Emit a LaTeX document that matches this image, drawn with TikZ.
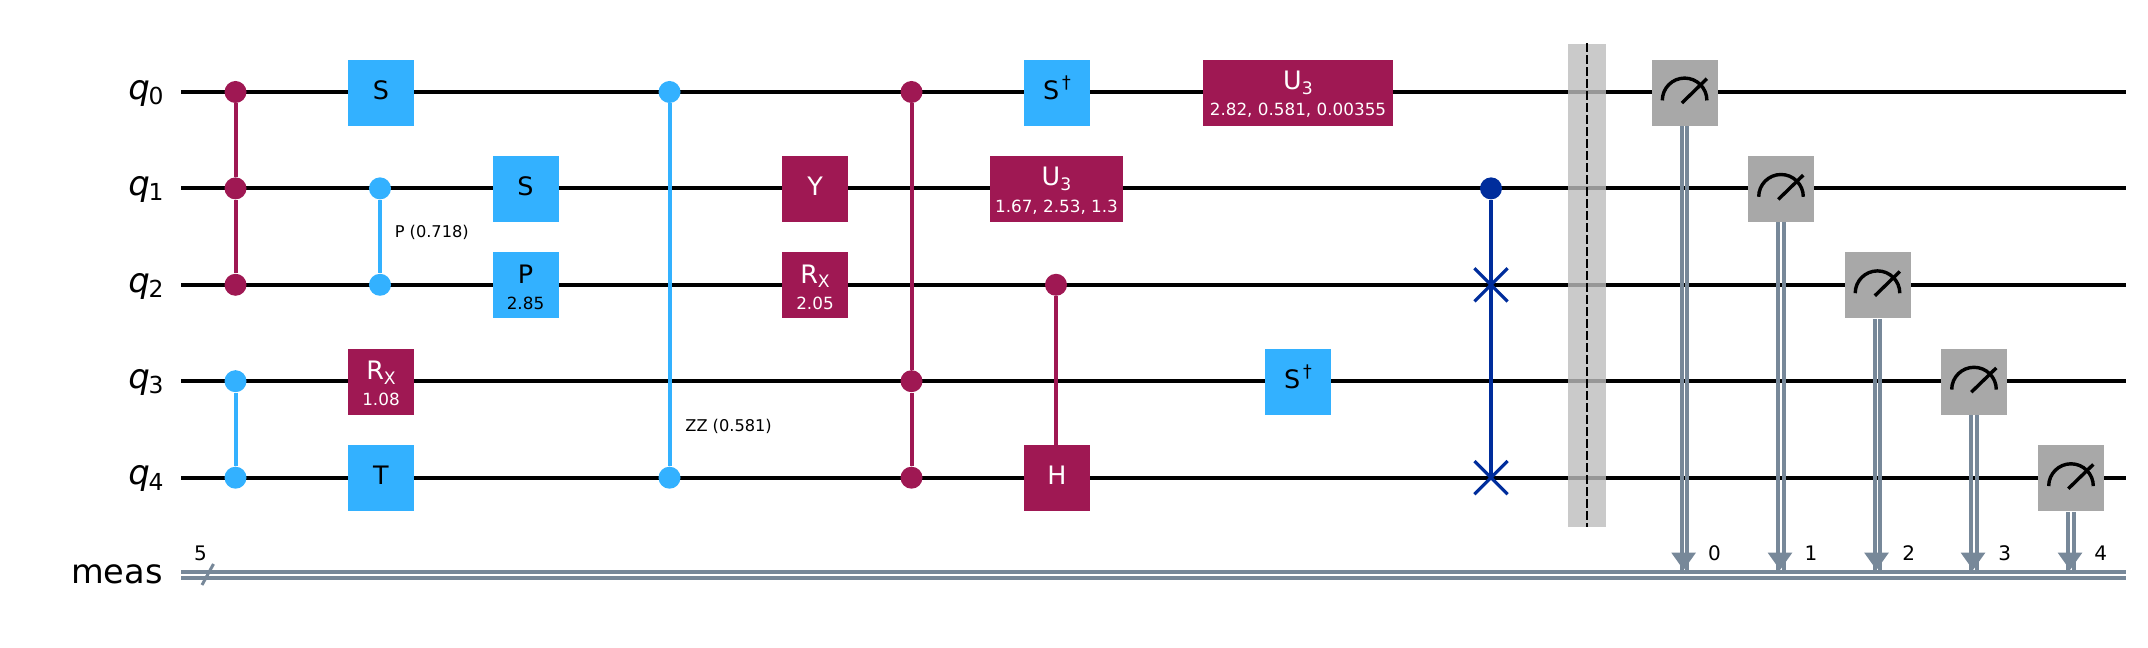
\documentclass[tikz,border=0pt]{standalone}
\usepackage{fontspec}
\setmainfont{DejaVu Sans}
\usetikzlibrary{arrows.meta, shapes.misc}

\definecolor{gatepink}{HTML}{9F1853}
\definecolor{gateblue}{HTML}{33B1FF}
\definecolor{swapblue}{HTML}{002D9C}
\definecolor{metergray}{HTML}{A8A8A8}
\definecolor{barriergray}{HTML}{BDBDBD}
\definecolor{clgray}{HTML}{778899}

\newcommand{\gsub}[1]{\raisebox{-2.4pt}[0pt][0pt]{\fontsize{8.6}{10}\selectfont #1}}
\newcommand{\gsup}{\raisebox{5.3pt}[0pt][0pt]{\fontsize{8.7}{10}\selectfont\,†}}
\newcommand{\gtwo}[2]{\rule{0pt}{10.9pt}#1\\[-0.5pt]{\fontsize{8.4}{13.6}\selectfont #2}}

\tikzset{
  qwire/.style={line width=2pt, black},
  clwire/.style={line width=2pt, clgray},
  gatebox/.style={rectangle, inner sep=0, yshift=-0.35pt, minimum width=33pt, minimum height=33pt, font=\fontsize{12.7}{13.6}\selectfont},
  one/.style={text height=9.2pt, text depth=2.7pt},
  two/.style={align=center},
  bgate/.style={gatebox, fill=gateblue, text=black},
  pgate/.style={gatebox, fill=gatepink, text=white},
  dot/.style={circle, inner sep=0, minimum size=11pt, fill=#1},
  link/.style={line width=2pt, #1},
  swapx/.style={cross out, draw=swapblue, line width=1.6pt, inner sep=0, minimum size=15pt},
  meter/.style={gatebox, fill=metergray, path picture={
    \draw[line width=1.7pt] ([shift={(-22.3,-7.7)}]path picture bounding box.center) arc (180:0:22.3);
    \draw[line width=1.7pt] ([shift={(-2.7,-10.3)}]path picture bounding box.center) -- ([shift={(22.3,14)}]path picture bounding box.center);
  }},
  wirelabel/.style={anchor=base east, inner sep=0, font=\fontsize{17}{18}\selectfont},
  small/.style={anchor=base west, inner sep=0, font=\fontsize{8.1}{10}\selectfont},
  bitlabel/.style={anchor=base, inner sep=0, font=\fontsize{10}{12}\selectfont},
}

\begin{document}
\begin{tikzpicture}[x=0.5pt, y=0.5pt]
\useasboundingbox (0,0) rectangle (2148,648);

% wires
\foreach \i/\y in {0/556, 1/459.6, 2/363.2, 3/266.8, 4/170.3}{
  \coordinate (qs\i) at (181,\y);
  \coordinate (qe\i) at (2126,\y);
  \draw[qwire] (qs\i) -- (qe\i);
  \node[wirelabel] (ql\i) at (164,\y-7.3) {\itshape q\upshape\kern-0.6pt\raisebox{-2.6pt}{\fontsize{11.7}{12}\selectfont\i}};
}
\coordinate (ms) at (181,73.1);
\coordinate (me) at (2126,73.1);
\draw[clwire] ([yshift=1.55pt]ms) -- ([yshift=1.55pt]me);
\draw[clwire] ([yshift=-1.55pt]ms) -- ([yshift=-1.55pt]me);
\node[wirelabel, font=\fontsize{16.8}{18}\selectfont] (mlabel) at (163,64) {meas};
\coordinate (sla) at (202,63);
\coordinate (slb) at (213.5,84);
\draw[line width=1.5pt, clgray] (sla) -- (slb);
\node[bitlabel] (mcount) at (200.6,87.3) {5};

% first columns
\node[dot=gatepink] (cca) at (235.5,556) {};
\node[dot=gatepink] (ccb) at (235.5,459.6) {};
\node[dot=gatepink] (ccc) at (235.5,363.2) {};
\draw[link=gatepink] (cca) -- (ccb) -- (ccc);
\node[dot=gateblue] (cza) at (235.5,266.8) {};
\node[dot=gateblue] (czb) at (235.5,170.3) {};
\draw[link=gateblue] (cza) -- (czb);
\node[bgate, one] (sa) at (381,556) {S};
\node[dot=gateblue] (cpa) at (380,459.6) {};
\node[dot=gateblue] (cpb) at (380,363.2) {};
\draw[link=gateblue] (cpa) -- (cpb);
\node[small] (cplabel) at (394.4,410.4) {P (0.718)};
\node[pgate, two] (rxa) at (381,266.8) {\gtwo{R\gsub{X}}{1.08}};
\node[bgate, one] (ta) at (381,170.3) {T};
\node[bgate, one] (sb) at (525.5,459.6) {S};
\node[bgate, two] (pa) at (525.5,363.2) {\gtwo{P}{2.85}};

% zz
\node[dot=gateblue] (zza) at (669.5,556) {};
\node[dot=gateblue] (zzb) at (669.5,170.3) {};
\draw[link=gateblue] (zza) -- (zzb);
\node[small] (zzlabel) at (685,216) {ZZ (0.581)};

% middle columns
\node[pgate, one] (ya) at (815,459.6) {Y};
\node[pgate, two] (rxb) at (815,363.2) {\gtwo{R\gsub{X}}{2.05}};
\node[dot=gatepink] (cda) at (911.5,556) {};
\node[dot=gatepink] (cdb) at (911.5,266.8) {};
\node[dot=gatepink] (cdc) at (911.5,170.3) {};
\draw[link=gatepink] (cda) -- (cdb) -- (cdc);
\node[bgate, one] (sda) at (1057,556) {S\gsup};
\node[pgate, two, minimum width=66.5pt] (ua) at (1056.5,459.6) {\gtwo{U\gsub{3}}{1.67, 2.53, 1.3}};
\node[dot=gatepink] (cha) at (1056,363.2) {};
\node[pgate, one] (ha) at (1057,170.3) {H};
\draw[link=gatepink] (cha) -- (cha |- ha.north);
\node[pgate, two, minimum width=95pt] (ub) at (1298,556) {\gtwo{U\gsub{3}}{2.82, 0.581, 0.00355}};
\node[bgate, one] (sdb) at (1298,266.8) {S\gsup};

% swap
\node[dot=swapblue] (swc) at (1491,459.6) {};
\node[swapx] (swa) at (1491,363.2) {};
\node[swapx] (swb) at (1491,170.3) {};
\draw[line width=1.6pt, swapblue] (swc) -- (swa.center) -- (swb.center);

% barrier
\node[rectangle, inner sep=0, minimum width=18.85pt, minimum height=241.65pt, fill=barriergray, fill opacity=0.8] (barrier) at (1586.8,362.65) {};
\draw[line width=1pt, dash pattern=on 4.3pt off 1.7pt] (barrier.north) -- (barrier.south);

% measurements
\foreach \i/\x/\y/\t in {0/1684.6/556/1714.5, 1/1781/459.6/1811, 2/1877.5/363.2/1908.6, 3/1974/266.8/2004.6, 4/2071/170.3/2100.7}{
  \node[meter] (m\i) at (\x,\y) {};
  \coordinate (c\i) at (\x-1,78);
  \draw[clwire] ([xshift=-1.4pt]m\i.south) -- ([xshift=-1.4pt]m\i.south |- c\i);
  \draw[clwire] ([xshift=1.4pt]m\i.south) -- ([xshift=1.4pt]m\i.south |- c\i);
  \path[fill=clgray] (c\i) -- ++(-12.3,17.3) -- ++(24.6,0) -- cycle;
  \node[bitlabel] (mb\i) at (\t,87.3) {\i};
}
\end{tikzpicture}
\end{document}
